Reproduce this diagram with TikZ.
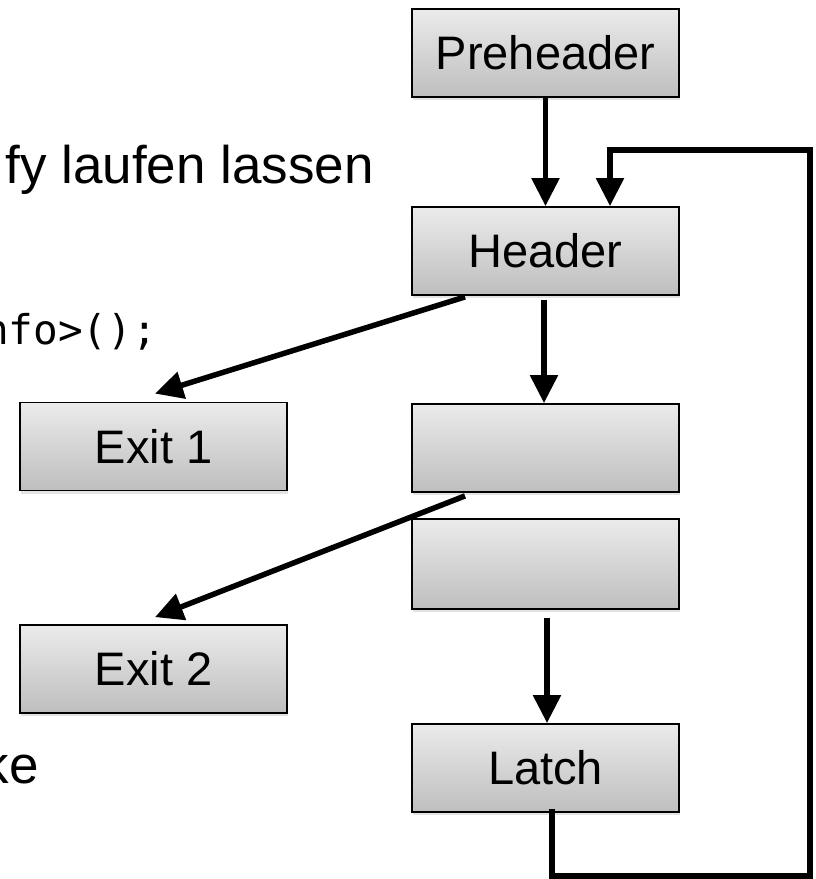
\documentclass[tikz,border=0pt]{standalone}
\usepackage{fontspec}
\setmainfont{Liberation Sans}
\newfontfamily\codefont{DejaVu Sans Mono}
\usetikzlibrary{arrows.meta,shadows}
\definecolor{boxtop}{HTML}{EBEBEB}
\definecolor{boxbot}{HTML}{BEBEBE}
\begin{document}
\begin{tikzpicture}[x=1pt,y=-1pt,
  block/.style={draw=black, line width=1.8pt, top color=boxtop, bottom color=boxbot,
    minimum width=267pt, minimum height=88pt, inner sep=0pt,
    font=\fontsize{47}{56}\selectfont,
    drop shadow={shadow xshift=0.5pt, shadow yshift=-3pt, opacity=0.22}},
  link/.style={line width=5.5pt, -{Triangle[length=28pt,width=27pt]}},
  slidetext/.style={font=\fontsize{53}{62}\selectfont, inner sep=0pt, anchor=base east}]
\useasboundingbox (0,0) rectangle (816,879);
\clip (0,0) rectangle (816,879);
\fill[white] (0,0) rectangle (816,879);

% slide text running behind the diagram
\node[slidetext] (t1) at (374,183) {fy laufen lassen};
\node[font=\codefont\fontsize{41}{48}\selectfont, anchor=base east, inner sep=0pt] (t3) at (157,344) {nfo>();};
\node[slidetext] (t2) at (39,783) {ke};

% basic blocks of the loop
\node[block] (pre) at (545.5,53) {Preheader};
\node[block] (hdr) at (545.5,251) {Header};
\node[block] (b3) at (545.5,448) {};
\node[block, minimum height=90pt] (b4) at (545.5,564) {};
\node[block] (latch) at (545.5,768) {Latch};
\node[block] (ex1) at (153.5,446.5) {Exit 1};
\node[block] (ex2) at (153.5,669) {Exit 2};

% control flow edges
\draw[link] (pre.south) -- (hdr.north);
\draw[link] ([xshift=-1.5pt,yshift=-4pt]hdr.south) -- ([xshift=-1.5pt]b3.north);
\draw[link] ([xshift=1.5pt,yshift=-8pt]b4.south) -- ([xshift=1.5pt]latch.north);
\draw[link] ([xshift=-80.5pt,yshift=-1pt]hdr.south) -- ([xshift=1.5pt,yshift=8pt]ex1.north);
\draw[link] ([xshift=-80.5pt,yshift=-3pt]b3.south) -- ([xshift=1.5pt,yshift=7pt]ex2.north);

% back edge from the latch to the header
\coordinate (lpbr) at (810,876);
\coordinate (lptl) at (610,150);
\draw[link, line join=miter] ([xshift=6.5pt,yshift=4pt]latch.south) |- (lpbr) |- (lptl) -- (lptl |- hdr.north);
\end{tikzpicture}
\end{document}
